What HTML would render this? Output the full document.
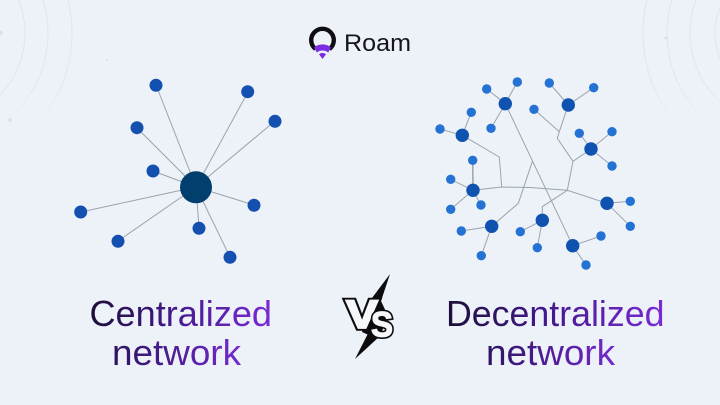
<!DOCTYPE html>
<html>
<head>
<meta charset="utf-8">
<style>
html,body{margin:0;padding:0;width:720px;height:405px;overflow:hidden;background:#edf2f9}
svg{display:block}
text{font-family:"Liberation Sans",sans-serif}
</style>
</head>
<body>
<svg width="720" height="405" viewBox="0 0 720 405" xmlns="http://www.w3.org/2000/svg">
<defs>
<linearGradient id="g1" gradientUnits="userSpaceOnUse" x1="90" y1="0" x2="272" y2="0"><stop offset="0" stop-color="#1c0f38"/><stop offset=".45" stop-color="#43188a"/><stop offset="1" stop-color="#7a2bd6"/></linearGradient>
<linearGradient id="g2" gradientUnits="userSpaceOnUse" x1="112" y1="0" x2="241" y2="0"><stop offset="0" stop-color="#2c1360"/><stop offset="1" stop-color="#7429cf"/></linearGradient>
<linearGradient id="g3" gradientUnits="userSpaceOnUse" x1="446" y1="0" x2="665" y2="0"><stop offset="0" stop-color="#1c0f38"/><stop offset=".45" stop-color="#43188a"/><stop offset="1" stop-color="#7a2bd6"/></linearGradient>
<linearGradient id="g4" gradientUnits="userSpaceOnUse" x1="486" y1="0" x2="615" y2="0"><stop offset="0" stop-color="#2c1360"/><stop offset="1" stop-color="#7429cf"/></linearGradient>
<linearGradient id="fade" gradientUnits="userSpaceOnUse" x1="0" y1="0" x2="0" y2="130"><stop offset="0" stop-color="#dfe3ee"/><stop offset=".65" stop-color="#e2e6f0"/><stop offset="1" stop-color="#edf2f9"/></linearGradient>
</defs>
<rect width="720" height="405" fill="#edf2f9"/>

<!-- faint background arcs -->
<g fill="none" stroke="url(#fade)" stroke-width="1">
<circle cx="-64" cy="33" r="89"/>
<circle cx="-64" cy="33" r="112"/>
<circle cx="-64" cy="33" r="136"/>
<circle cx="784" cy="33" r="141"/>
<circle cx="784" cy="33" r="117"/>
<circle cx="784" cy="33" r="94"/>
<circle cx="784" cy="33" r="69"/>
</g>
<g fill="#dcdfe9">
<circle cx="107" cy="60" r="1"/><circle cx="10" cy="120" r="1.8"/><circle cx="666" cy="38" r="1.5"/><circle cx="0" cy="33" r="2.5"/>
</g>

<!-- logo -->
<path d="M315.5 49 A11.3 11.3 0 1 1 329.5 49" fill="none" stroke="#0d0d12" stroke-width="4.4"/>
<path d="M314 47.5 A13 13 0 0 1 331 47.5 L328.2 52.5 A9 9 0 0 0 316.8 52.5 Z" fill="#7b2be0"/>
<path d="M319 54.3 A5 5 0 0 1 326 54.3 L322.5 59 Z" fill="#7b2be0"/>
<text x="344" y="51" font-size="24" fill="#15151a" textLength="67" lengthAdjust="spacingAndGlyphs">Roam</text>

<!-- centralized -->
<g stroke="#9aa3ad" stroke-width="1" fill="none">
<line x1="196" y1="187" x2="156" y2="85"/>
<line x1="196" y1="187" x2="248" y2="92"/>
<line x1="196" y1="187" x2="275" y2="121"/>
<line x1="196" y1="187" x2="137" y2="128"/>
<line x1="196" y1="187" x2="153" y2="171"/>
<line x1="196" y1="187" x2="81" y2="212"/>
<line x1="196" y1="187" x2="118" y2="241"/>
<line x1="196" y1="187" x2="199" y2="228"/>
<line x1="196" y1="187" x2="230" y2="257"/>
<line x1="196" y1="187" x2="254" y2="205"/>
</g>
<g fill="#1450b0">
<circle cx="156" cy="85.3" r="6.5"/><circle cx="247.7" cy="91.7" r="6.5"/><circle cx="275" cy="121.3" r="6.5"/>
<circle cx="137" cy="127.7" r="6.5"/><circle cx="153" cy="171" r="6.5"/><circle cx="80.7" cy="212" r="6.5"/>
<circle cx="118" cy="241.3" r="6.5"/><circle cx="199" cy="228.3" r="6.5"/><circle cx="230" cy="257.3" r="6.5"/>
<circle cx="254" cy="205.3" r="6.5"/>
</g>
<circle cx="196" cy="187.3" r="16" fill="#003f6e"/>

<!-- decentralized lines -->
<g stroke="#9aa3ad" stroke-width="1" fill="none">
<line x1="505.3" y1="103.7" x2="486.7" y2="89"/><line x1="505.3" y1="103.7" x2="517.3" y2="82"/><line x1="505.3" y1="103.7" x2="491" y2="128.3"/>
<line x1="462.3" y1="135.3" x2="471.3" y2="112.3"/><line x1="462.3" y1="135.3" x2="440" y2="129"/>
<line x1="568.3" y1="105" x2="549.3" y2="83"/><line x1="568.3" y1="105" x2="593.7" y2="87.7"/>
<line x1="591" y1="149" x2="579.3" y2="133.3"/><line x1="591" y1="149" x2="612" y2="131.7"/><line x1="591" y1="149" x2="612" y2="166"/>
<line x1="473" y1="190.3" x2="472.7" y2="160.3" stroke-width="1.5"/><line x1="473" y1="190.3" x2="450.7" y2="179.3"/><line x1="473" y1="190.3" x2="450.7" y2="209.3"/><line x1="473" y1="190.3" x2="481" y2="205"/>
<line x1="607" y1="203.3" x2="630.3" y2="201.3"/><line x1="607" y1="203.3" x2="630.3" y2="226.3"/>
<line x1="491.7" y1="226.3" x2="461.3" y2="231"/><line x1="491.7" y1="226.3" x2="481.3" y2="255.7"/>
<line x1="542.3" y1="220.3" x2="520.3" y2="231.7"/><line x1="542.3" y1="220.3" x2="537.3" y2="247.7"/>
<line x1="572.7" y1="245.7" x2="601" y2="236"/><line x1="572.7" y1="245.7" x2="586" y2="265"/>
<line x1="505.3" y1="103.7" x2="572.7" y2="245.7"/>
<polyline points="462.3,135.3 499.3,157 501.7,187"/>
<polyline points="473,190.3 501.7,187 530,187.5 567.3,190.3 607,203.3"/>
<polyline points="567.3,190.3 573,161.3 591,149"/>
<polyline points="573,161.3 557.3,138.3 559.3,131.7 568.3,105"/>
<line x1="559.3" y1="131.7" x2="534" y2="109.3"/>
<polyline points="567.3,190.3 542.3,206.7 542.3,220.3"/>
<polyline points="491.7,226.3 518.3,203.3 532.3,161.7"/>
</g>
<g fill="#2472d3">
<circle cx="486.7" cy="89" r="4.7"/><circle cx="517.3" cy="82" r="4.7"/><circle cx="491" cy="128.3" r="4.7"/>
<circle cx="471.3" cy="112.3" r="4.7"/><circle cx="440" cy="129" r="4.7"/><circle cx="549.3" cy="83" r="4.7"/>
<circle cx="593.7" cy="87.7" r="4.7"/><circle cx="534" cy="109.3" r="4.7"/><circle cx="579.3" cy="133.3" r="4.7"/>
<circle cx="612" cy="131.7" r="4.7"/><circle cx="612" cy="166" r="4.7"/><circle cx="472.7" cy="160.3" r="4.7"/>
<circle cx="450.7" cy="179.3" r="4.7"/><circle cx="450.7" cy="209.3" r="4.7"/><circle cx="481" cy="205" r="4.7"/>
<circle cx="630.3" cy="201.3" r="4.7"/><circle cx="630.3" cy="226.3" r="4.7"/><circle cx="461.3" cy="231" r="4.7"/>
<circle cx="481.3" cy="255.7" r="4.7"/><circle cx="520.3" cy="231.7" r="4.7"/><circle cx="537.3" cy="247.7" r="4.7"/>
<circle cx="601" cy="236" r="4.7"/><circle cx="586" cy="265" r="4.7"/>
</g>
<g fill="#0f52b0">
<circle cx="505.3" cy="103.7" r="6.7"/><circle cx="568.3" cy="105" r="6.7"/><circle cx="462.3" cy="135.3" r="6.7"/>
<circle cx="591" cy="149" r="6.7"/><circle cx="473" cy="190.3" r="6.7"/><circle cx="607" cy="203.3" r="6.7"/>
<circle cx="491.7" cy="226.3" r="6.7"/><circle cx="542.3" cy="220.3" r="6.7"/><circle cx="572.7" cy="245.7" r="6.7"/>
</g>

<!-- headings -->
<text x="89.5" y="326" font-size="36" fill="url(#g1)" textLength="182.5" lengthAdjust="spacingAndGlyphs">Centralized</text>
<text x="112" y="365" font-size="36" fill="url(#g2)" textLength="129" lengthAdjust="spacingAndGlyphs">network</text>
<text x="446" y="326" font-size="36" fill="url(#g3)" textLength="218.5" lengthAdjust="spacingAndGlyphs">Decentralized</text>
<text x="486" y="365" font-size="36" fill="url(#g4)" textLength="129" lengthAdjust="spacingAndGlyphs">network</text>

<!-- VS bolt -->
<polygon points="390,274 372,298 362,332 367.5,334.5 355,359 380,336 388,316 381,301" fill="#0c0c0e"/>
<g font-weight="bold" stroke-linejoin="miter" stroke-miterlimit="3">
<text x="346" y="328" font-size="40" textLength="32" lengthAdjust="spacingAndGlyphs" fill="#0c0c0e" stroke="#0c0c0e" stroke-width="5.5">V</text>
<text x="346" y="328" font-size="40" textLength="32" lengthAdjust="spacingAndGlyphs" fill="#f6f7fa" stroke="#f6f7fa" stroke-width="1.8">V</text>
<text x="371" y="336.5" font-size="35" textLength="22" lengthAdjust="spacingAndGlyphs" fill="#0c0c0e" stroke="#0c0c0e" stroke-width="4.6">S</text>
<text x="371" y="336.5" font-size="35" textLength="22" lengthAdjust="spacingAndGlyphs" fill="#f6f7fa" stroke="#f6f7fa" stroke-width="1.2">S</text>
</g>
</svg>
</body>
</html>
